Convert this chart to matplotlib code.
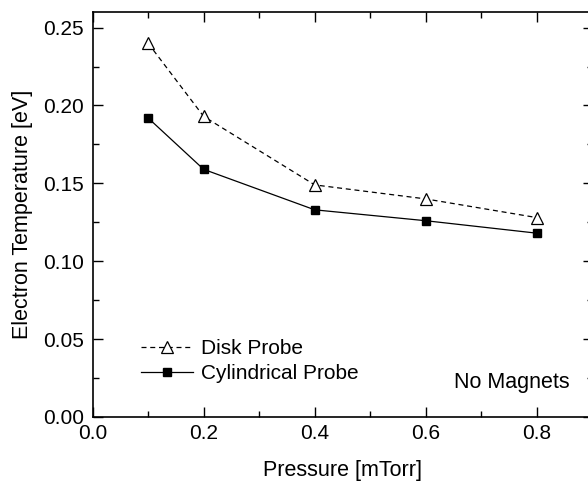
import matplotlib
matplotlib.use("Agg")
from matplotlib import pyplot as plt
from matplotlib.ticker import MultipleLocator

pressure = [0.1, 0.2, 0.4, 0.6, 0.8]
te_disk = [0.240, 0.193, 0.149, 0.140, 0.128]
te_cyl = [0.192, 0.159, 0.133, 0.126, 0.118]

plt.rcParams["font.family"] = ["Liberation Sans", "DejaVu Sans"]
plt.rcParams["font.size"] = 15.5

fig = plt.figure(figsize=(5.88, 4.87), dpi=100)
# axes run slightly past the right edge, as in the reference crop
ax = fig.add_axes([92.5 / 588, 70 / 487, 500 / 588, 405 / 487])

ax.plot(pressure, te_disk, "--", color="black", lw=0.9, dashes=(4, 3),
        marker="^", ms=8, mfc="white", mec="black", mew=0.9, label="Disk Probe")
ax.plot(pressure, te_cyl, "-", color="black", lw=0.9,
        marker="s", ms=6, mfc="black", mec="black", label="Cylindrical Probe")

ax.set_xlim(0, 0.9)
ax.set_ylim(0, 0.26)
ax.xaxis.set_major_locator(MultipleLocator(0.2))
ax.xaxis.set_minor_locator(MultipleLocator(0.1))
ax.yaxis.set_major_locator(MultipleLocator(0.05))
ax.yaxis.set_minor_locator(MultipleLocator(0.025))
ax.xaxis.set_major_formatter(plt.FormatStrFormatter("%.1f"))
ax.yaxis.set_major_formatter(plt.FormatStrFormatter("%.2f"))
ax.tick_params(which="both", direction="in", top=True, right=True, width=1,
               labelsize=15)
ax.tick_params(which="major", length=7)
ax.tick_params(axis="y", which="major", pad=6)
ax.tick_params(axis="x", which="major", pad=5)
ax.tick_params(which="minor", length=4.5)
for s in ax.spines.values():
    s.set_linewidth(1.2)

ax.set_xlabel("Pressure [mTorr]", labelpad=12)
ax.set_ylabel("Electron Temperature [eV]", labelpad=7)

ax.legend(loc="center left", bbox_to_anchor=(0.08, 0.138), frameon=False,
          handlelength=2.5, handletextpad=0.37, labelspacing=0.3, borderaxespad=0,
          prop={"size": 15})
ax.text(0.955, 0.084, "No Magnets", transform=ax.transAxes, ha="right", va="center")

fig.savefig("out.png", dpi=100)
